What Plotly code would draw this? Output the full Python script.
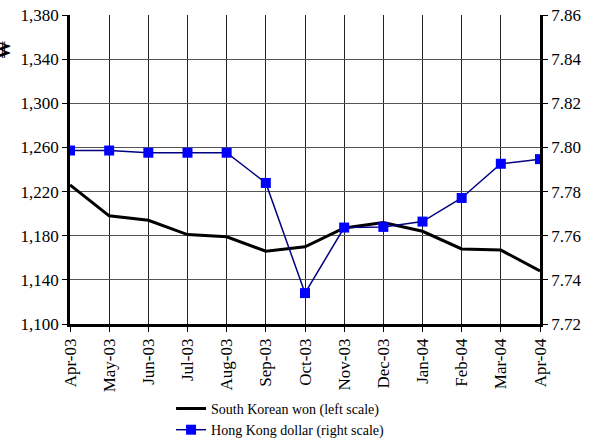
import plotly.graph_objects as go

MONTHS = ["Apr-03", "May-03", "Jun-03", "Jul-03", "Aug-03", "Sep-03", "Oct-03",
          "Nov-03", "Dec-03", "Jan-04", "Feb-04", "Mar-04", "Apr-04"]
KRW = [1226, 1198, 1194, 1181, 1179, 1166, 1170, 1187, 1192, 1184, 1168, 1167, 1148]
HKD = [7.7986, 7.7986, 7.7976, 7.7976, 7.7976, 7.7839, 7.7340, 7.7637, 7.7640,
       7.7664, 7.7771, 7.7926, 7.7947]

FONT = "Liberation Serif"

fig = go.Figure()
fig.add_trace(go.Scatter(
    x=MONTHS, y=KRW, mode="lines", name="South Korean won (left scale)",
    line=dict(color="black", width=3),
))
fig.add_trace(go.Scatter(
    x=MONTHS, y=HKD, mode="lines+markers", name="Hong Kong dollar (right scale)",
    line=dict(color="#000080", width=1.5),
    marker=dict(symbol="square", size=10, color="#0000FF"),
    yaxis="y2",
))

# partly clipped currency sign at the top of the left axis
fig.add_annotation(
    text="<b>₩</b>", xref="paper", yref="paper", x=-0.141, y=0.887,
    xanchor="center", yanchor="middle",
    showarrow=False, textangle=-90, font=dict(family=FONT, size=18, color="black"),
)

fig.update_layout(
    width=592, height=439,
    template="simple_white",
    font=dict(family=FONT, size=17, color="black"),
    margin=dict(l=70, r=52, t=15, b=115, autoexpand=False),
    plot_bgcolor="white", paper_bgcolor="white",
    showlegend=True,
    legend=dict(x=0.215, y=-0.223, xanchor="left", yanchor="top",
                font=dict(family=FONT, size=14), tracegroupgap=0,
                bgcolor="rgba(0,0,0,0)"),
    xaxis=dict(
        type="category", range=[0, 12], tickangle=-90,
        showgrid=True, gridcolor="#222", gridwidth=1,
        showline=True, linecolor="black", linewidth=2.5, mirror=False,
        ticks="outside", ticklen=5, tickcolor="black",
    ),
    yaxis=dict(
        range=[1100, 1380], tick0=1100, dtick=40, tickformat=",",
        showgrid=True, gridcolor="#555", gridwidth=1,
        showline=True, linecolor="black", linewidth=2.5,
        ticks="outside", ticklen=5, tickcolor="black", zeroline=False,
        ticklabeloverflow="allow",
    ),
    yaxis2=dict(
        range=[7.72, 7.86], tick0=7.72, dtick=0.02, tickformat=".2f",
        overlaying="y", side="right", showgrid=False,
        showline=True, linecolor="black", linewidth=2.5,
        ticks="outside", ticklen=5, tickcolor="black", zeroline=False,
        ticklabeloverflow="allow",
    ),
)

# drop the default 8px page margin so the chart fills the window
fig.write_html("out.html", config={"displayModeBar": False},
               post_script="document.body.style.margin='0';")
